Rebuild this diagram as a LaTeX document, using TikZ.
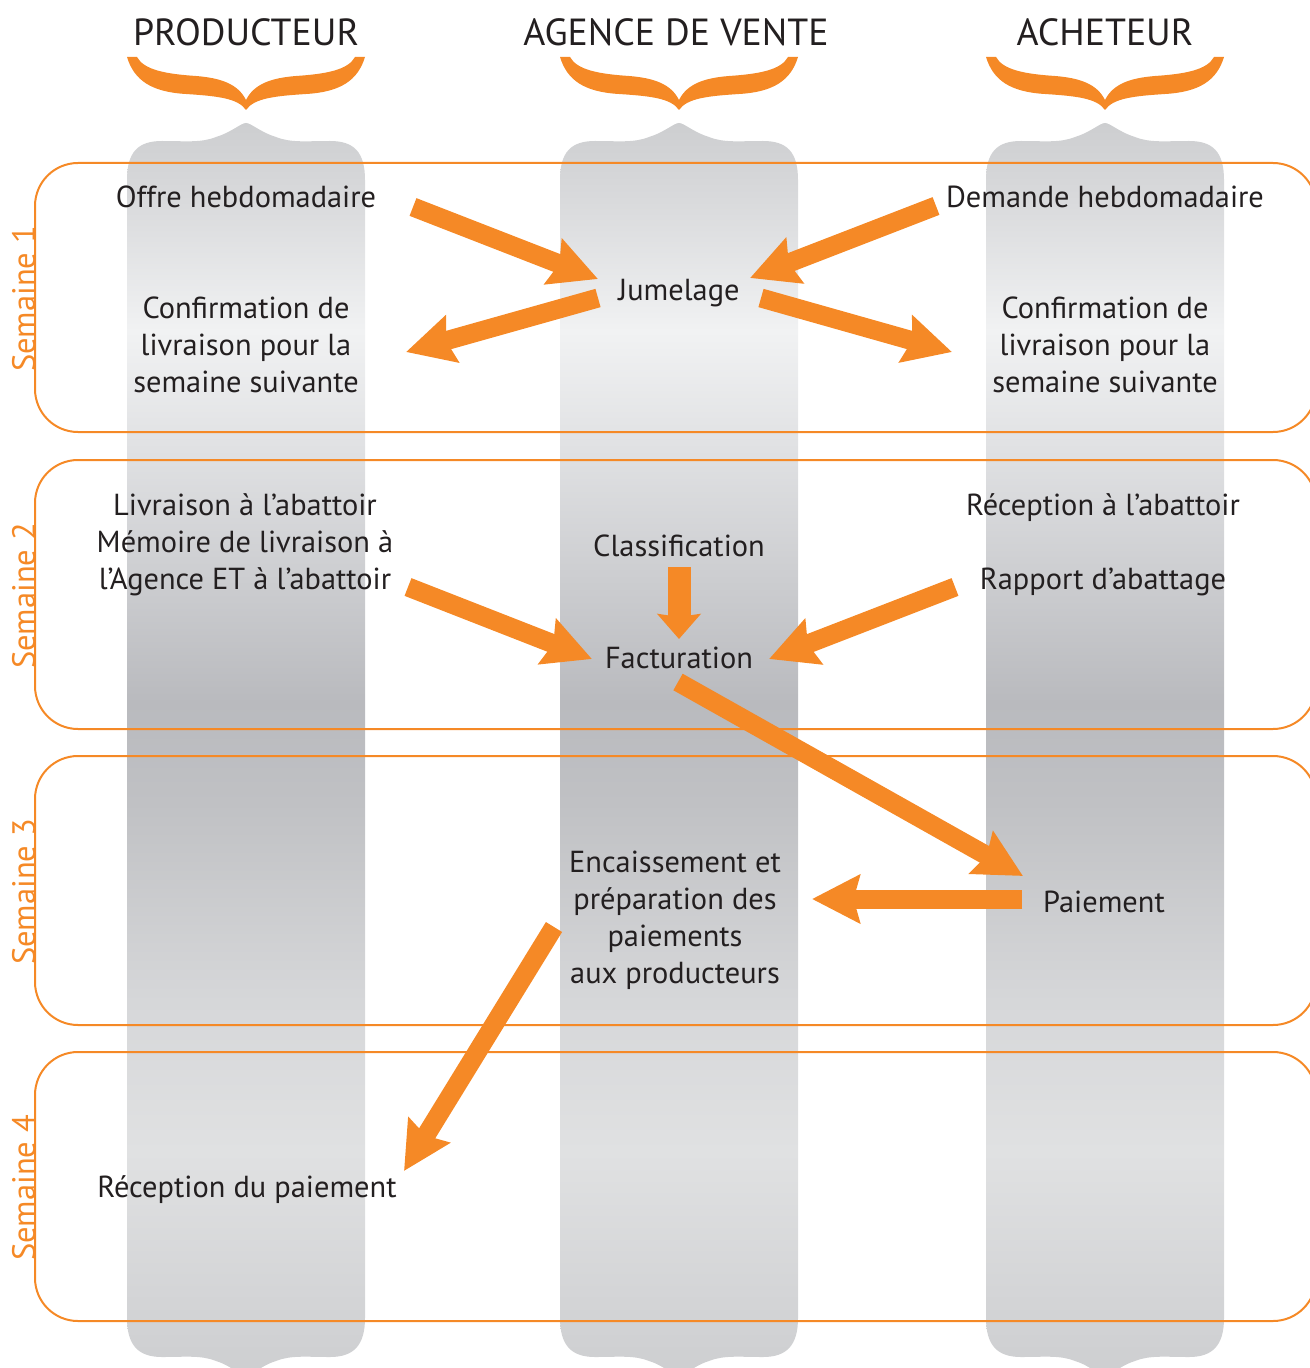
\documentclass[tikz,border=0pt]{standalone}
\usepackage{fontspec}
\setmainfont{PT Sans}
\usepackage{xcolor}
\usetikzlibrary{arrows.meta, calc}
\definecolor{flowOrange}{RGB}{245,137,38}
\definecolor{textDark}{RGB}{35,31,32}
\definecolor{colA}{RGB}{205,206,208}
\definecolor{colB}{RGB}{217,218,220}
\definecolor{colC}{RGB}{241,242,243}
\definecolor{colD}{RGB}{224,225,227}
\definecolor{colE}{RGB}{185,186,190}
\definecolor{colF}{RGB}{192,193,196}
\definecolor{colG}{RGB}{214,215,217}
\definecolor{colH}{RGB}{224,225,226}
\definecolor{colI}{RGB}{211,212,214}
\pgfdeclareverticalshading{columnshade}{100bp}{color(0bp)=(colA); color(25bp)=(colA); color(28bp)=(colI); color(34bp)=(colH); color(40bp)=(colG); color(47.9bp)=(colF); color(51.9bp)=(colE); color(62bp)=(colD); color(66.7bp)=(colC); color(71.9bp)=(colB); color(75bp)=(colA); color(100bp)=(colA)}

\begin{document}
\begin{tikzpicture}[
    x=0.02cm, y=-0.02cm,
    header/.style={anchor=base, inner sep=0pt, text=textDark,
                   font=\fontsize{21.5}{26}\selectfont},
    label/.style={anchor=base, inner sep=0pt, align=center, text=textDark,
                  font=\fontsize{17.3}{21.05}\selectfont},
    weekbox/.style={draw=flowOrange, line width=0.04cm, rounded corners=0.86cm},
    weektag/.style={rotate=90, anchor=base, inner sep=0pt, text=flowOrange,
                    font=\fontsize{18.5}{22}\selectfont},
    flow/.style={draw=flowOrange, line width=0.38cm,
                 -{Stealth[length=0.95cm, width=0.95cm, inset=0.12cm]}}
]
    \useasboundingbox (0,0) rectangle (1310,1368);

    % Columns and braces
    \foreach \c in {246,679,1105} {
        \path[shading=columnshade] (\c-119,180)
            .. controls (\c-119,152) and (\c-108,141) .. (\c-84,141)
            .. controls (\c-60,141) and (\c-45,143) .. (\c-30,137)
            .. controls (\c-14,132) and (\c-5,123) .. (\c,123)
            .. controls (\c+5,123) and (\c+14,132) .. (\c+30,137)
            .. controls (\c+45,143) and (\c+60,141) .. (\c+84,141)
            .. controls (\c+108,141) and (\c+119,152) .. (\c+119,180)
            -- (\c+119,1318)
            .. controls (\c+119,1345) and (\c+108,1357) .. (\c+84,1357)
            .. controls (\c+60,1357) and (\c+45,1355) .. (\c+30,1361)
            .. controls (\c+14,1366) and (\c+5,1376) .. (\c,1378)
            .. controls (\c-5,1376) and (\c-14,1366) .. (\c-30,1361)
            .. controls (\c-45,1355) and (\c-60,1357) .. (\c-84,1357)
            .. controls (\c-108,1357) and (\c-119,1345) .. (\c-119,1318)
            -- cycle;
        \fill[flowOrange] (\c-119,57)
            .. controls (\c-112,80) and (\c-95,92) .. (\c-60,94)
            .. controls (\c-30,96) and (\c-8,98) .. (\c,110)
            .. controls (\c+8,98) and (\c+30,96) .. (\c+60,94)
            .. controls (\c+95,92) and (\c+112,80) .. (\c+119,57)
            -- (\c+109,57)
            .. controls (\c+102,70) and (\c+80,74) .. (\c+50,76)
            .. controls (\c+25,78) and (\c+8,84) .. (\c,100)
            .. controls (\c-8,84) and (\c-25,78) .. (\c-50,76)
            .. controls (\c-80,74) and (\c-102,70) .. (\c-109,57)
            -- cycle;
    }

    % Weeks
    \foreach \t [count=\w] in {163,460,756,1052} {
        \draw[weekbox] (35,\t) rectangle (1316,\t+269);
        \node[weektag] (week\w) at (35,\t+136) {Semaine \w};
    }

    % Headers
    \node[header] (prod) at (246,46) {PRODUCTEUR};
    \node[header] (agence) at (676,46) {AGENCE DE VENTE};
    \node[header] (achet) at (1105,46) {ACHETEUR};

    % Labels (multi-line nodes sit on their last line)
    \node[label] (offre) at (246,208) {Offre hebdomadaire};
    \node[label] (demande) at (1105,208) {Demande hebdomadaire};
    \node[label] (jum) at (679,300) {Jumelage};
    \node[label] (confP) at (246,392) {Confirmation de\\livraison pour la\\semaine suivante};
    \node[label] (confD) at (1105,392) {Confirmation de\\livraison pour la\\semaine suivante};
    \node[label] (livr) at (245,589) {Livraison à l’abattoir\\Mémoire de livraison à\\l’Agence ET à l’abattoir};
    \node[label] (recep) at (1103,515) {Réception à l’abattoir};
    \node[label] (rapport) at (1103,589) {Rapport d’abattage};
    \node[label] (classif) at (679,556) {Classification};
    \node[label] (fact) at (679,668) {Facturation};
    \node[label] (encaiss) at (675,983) {Encaissement et\\préparation des\\paiements\\aux producteurs};
    \node[label] (paie) at (1104,912) {Paiement};
    \node[label] (recpaie) at (247,1197) {Réception du paiement};

    % Arrows
    \draw[flow] ($(offre.base)+(167,-1)$) -- ($(jum.base)+(-81,-21)$);
    \draw[flow] ($(demande.base)+(-169,-2)$) -- ($(jum.base)+(71,-22)$);
    \draw[flow] ($(jum.base)+(-81,-2)$) -- ($(confP.base)+(160,-40)$);
    \draw[flow] ($(jum.base)+(82,-2)$) -- ($(confD.base)+(-153,-40)$);
    \draw[flow] ($(livr.base)+(163,-2)$) -- ($(fact.base)+(-87,-9)$);
    \draw[flow] ($(rapport.base)+(-148,-2)$) -- ($(fact.base)+(90,-9)$);
    \draw[flow, line width=0.46cm, -{Stealth[length=0.5cm, width=0.86cm, inset=0.06cm]}]
        ($(classif.base)+(0,11)$) -- ($(fact.base)+(0,-29)$);
    \draw[flow] ($(fact.base)+(-1,14)$) -- ($(paie.base)+(-81,-36)$);
    \draw[flow] ($(paie.base)+(-82,-13)$) -- ($(encaiss.base)+(137,-84)$);
    \draw[flow] ($(encaiss.base)+(-121,-56)$) -- ($(recpaie.base)+(157,-26)$);
\end{tikzpicture}
\end{document}
